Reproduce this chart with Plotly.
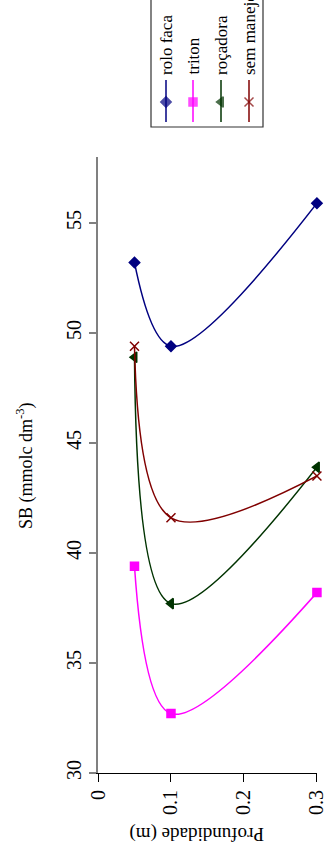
import plotly.graph_objects as go

W, H = 327, 857

depth = [0.05, 0.1, 0.3]
rolo_faca = [53.2, 49.4, 55.9]
triton = [39.4, 32.7, 38.2]
rocadora = [48.9, 37.7, 43.9]
sem_manejo = [49.4, 41.6, 43.5]

series_names = ["rolo faca", "triton", "roçadora", "sem manejo"]
series_vals = [rolo_faca, triton, rocadora, sem_manejo]
colors = ["#000080", "#FF00FF", "#003300", "#800000"]
symbols = ["diamond", "square", "triangle-left", "x-thin"]
msizes = [8, 8, 9, 9]

x_tickvals = [0, 0.1, 0.2, 0.3]
x_ticktext = ["0", "0.1", "0.2", "0.3"]
y_tickvals = [30, 35, 40, 45, 50, 55]

FONT = "Liberation Serif"

def px(x):
    return x / W

def py(y):
    return 1 - y / H

fig = go.Figure()

for name, vals, c, s, ms in zip(series_names, series_vals, colors, symbols, msizes):
    fig.add_trace(go.Scatter(
        x=depth, y=vals, mode="lines+markers", name=name,
        line=dict(color=c, width=1.5, shape="spline", smoothing=1.0),
        marker=dict(color=c, symbol=s, size=ms, line=dict(color=c, width=1.5)),
        showlegend=False, xaxis="x", yaxis="y", cliponaxis=False,
    ))

# legend (rotated) built from overlay pixel axes
leg_x = [166, 193, 221, 249]
for name, c, s, ms, lx in zip(series_names, colors, symbols, msizes, leg_x):
    fig.add_trace(go.Scatter(
        x=[lx, lx, lx], y=[80, 102, 122], mode="lines+markers",
        line=dict(color=c, width=1.5),
        marker=dict(color=c, symbol=s, size=[0, ms, 0], line=dict(color=c, width=1.5)),
        showlegend=False, xaxis="x2", yaxis="y2", hoverinfo="skip",
    ))
    fig.add_annotation(
        x=px(lx), y=py(77), xref="paper", yref="paper", text=name,
        textangle=-90, showarrow=False, xanchor="center", yanchor="bottom",
        font=dict(family=FONT, size=17, color="black"),
    )

fig.add_shape(type="rect", xref="paper", yref="paper",
              x0=px(151), x1=px(263), y0=py(127), y1=py(-5),
              line=dict(color="#333333", width=1.2), fillcolor="rgba(0,0,0,0)")

fig.add_annotation(
    x=px(197), y=py(834), xref="paper", yref="paper", text="Profundidade (m)",
    textangle=180, showarrow=False, xanchor="center", yanchor="middle",
    font=dict(family=FONT, size=19, color="black"),
)
fig.add_annotation(
    x=px(25), y=py(466), xref="paper", yref="paper",
    text="SB (mmolc dm<sup>-3</sup>)",
    textangle=-90, showarrow=False, xanchor="center", yanchor="middle",
    font=dict(family=FONT, size=18, color="black"),
)

fig.update_layout(
    template="none",
    width=W, height=H,
    margin=dict(l=0, r=0, t=0, b=0, pad=0),
    paper_bgcolor="white", plot_bgcolor="rgba(0,0,0,0)",
    showlegend=False,
    xaxis=dict(
        domain=[px(98), px(317)], range=[0, 0.3001],
        tickvals=x_tickvals, ticktext=x_ticktext, tickangle=-90,
        ticklabeloverflow="allow",
        showline=True, linecolor="black", linewidth=1,
        ticks="outside", ticklen=8, tickcolor="black", tickwidth=1,
        showgrid=False, zeroline=False, automargin=False,
        tickfont=dict(family=FONT, size=20, color="black"),
        anchor="y",
    ),
    yaxis=dict(
        domain=[py(773), py(157)], range=[30, 58],
        tickvals=y_tickvals, tickangle=-90,
        ticklabeloverflow="allow",
        showline=True, linecolor="#808080", linewidth=2,
        ticks="outside", ticklen=7, tickcolor="#808080", tickwidth=1.5,
        showgrid=False, zeroline=False, automargin=False,
        tickfont=dict(family=FONT, size=20, color="black"),
        anchor="x",
    ),
    xaxis2=dict(domain=[0, 1], range=[0, W], visible=False, anchor="y2",
                fixedrange=True, automargin=False),
    yaxis2=dict(domain=[0, 1], range=[H, 0], visible=False, anchor="x2",
                fixedrange=True, automargin=False),
)

fig.write_html("out.html", config={"displayModeBar": False},
               post_script="document.body.style.margin='0';document.body.style.overflow='hidden';")
